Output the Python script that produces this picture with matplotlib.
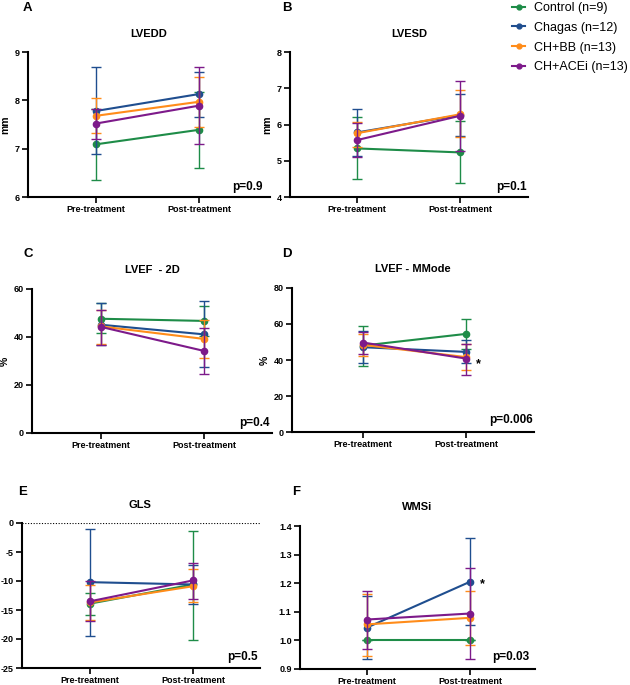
import matplotlib
matplotlib.use("Agg")
import matplotlib.pyplot as plt
from matplotlib.lines import Line2D
import numpy as np

plt.rcParams['font.family'] = ['Liberation Sans', 'DejaVu Sans']

# ---------------- data ----------------
groups = ["Control (n=9)", "Chagas (n=12)", "CH+BB (n=13)", "CH+ACEi (n=13)"]
colors = ["#1e8c48", "#1f4e8f", "#ff8c1a", "#7d1a8a"]
timepoints = ["Pre-treatment", "Post-treatment"]

# each: [pre, post] mean, and [pre, post] lower / upper error-bar ends
lvedd_mean = [[7.09, 7.39], [7.78, 8.13], [7.68, 7.97], [7.52, 7.89]]
lvedd_low = [[6.36, 6.61], [6.88, 7.66], [7.32, 7.45], [7.21, 7.09]]
lvedd_high = [[7.82, 8.17], [8.68, 8.58], [8.04, 8.48], [7.83, 8.70]]

lvesd_mean = [[5.34, 5.23], [5.78, 6.26], [5.76, 6.28], [5.57, 6.24]]
lvesd_low = [[4.49, 4.39], [5.12, 5.69], [5.39, 5.66], [5.11, 5.27]]
lvesd_high = [[6.22, 6.11], [6.44, 6.84], [6.07, 6.95], [6.03, 7.21]]

lvef2d_mean = [[47.6, 46.7], [45.1, 41.1], [44.4, 39.2], [44.2, 34.2]]
lvef2d_low = [[41.7, 40.6], [36.5, 27.5], [37.2, 31.4], [36.5, 24.4]]
lvef2d_high = [[54.2, 52.8], [54.2, 54.9], [51.4, 46.9], [51.1, 43.9]]

lvefmm_mean = [[48.0, 54.5], [47.1, 44.5], [48.4, 41.6], [49.7, 40.8]]
lvefmm_low = [[36.7, 46.0], [38.2, 38.2], [42.3, 34.3], [43.4, 31.6]]
lvefmm_high = [[58.7, 63.0], [56.0, 51.2], [54.5, 48.8], [55.4, 48.8]]

gls_mean = [[-13.9, -10.6], [-10.2, -10.6], [-13.7, -10.9], [-13.5, -9.9]]
gls_low = [[-15.8, -20.1], [-19.5, -14.0], [-16.7, -13.7], [-16.95, -13.1]]
gls_high = [[-12.0, -1.3], [-1.0, -7.3], [-10.7, -8.0], [-10.0, -6.9]]

wmsi_mean = [[1.000, 1.000], [1.045, 1.205], [1.056, 1.079], [1.073, 1.094]]
wmsi_low = [[1.000, 1.000], [0.936, 1.053], [0.945, 0.985], [0.971, 0.935]]
wmsi_high = [[1.000, 1.000], [1.156, 1.359], [1.162, 1.172], [1.173, 1.254]]

titles = ["LVEDD", "LVESD", "LVEF  - 2D", "LVEF - MMode", "GLS", "WMSi"]
letters = ["A", "B", "C", "D", "E", "F"]
pvalues = ["p=0.9", "p=0.1", "p=0.4", "p=0.006", "p=0.5", "p=0.03"]
ylabels = ["mm", "mm", "%", "%", "", ""]

# ---------------- layout ----------------
W, H = 630, 685
fig = plt.figure(figsize=(W / 100, H / 100), dpi=100)

def fx(px):
    return px / W

def fy(py):
    return 1 - py / H

def add_ax(l, r, t, b):
    return fig.add_axes([l / W, 1 - b / H, (r - l) / W, (b - t) / H])

# pixel boxes (left, right, top, bottom)
boxes = [(28, 270, 52, 197), (290, 528, 52, 197),
         (32, 272, 289, 433), (292, 534, 288, 432),
         (22, 260, 523, 668), (300, 535, 526, 669)]
ylims = [(6, 9), (4, 8), (0, 60), (0, 80), (-25, 0), (0.9, 1.4)]
yticks = [[6, 7, 8, 9], [4, 5, 6, 7, 8], [0, 20, 40, 60], [0, 20, 40, 60, 80],
          [-25, -20, -15, -10, -5, 0], [0.9, 1.0, 1.1, 1.2, 1.3, 1.4]]
ytickfmt = ["{:g}", "{:g}", "{:g}", "{:g}", "{:g}", "{:.1f}"]
pre_px = [96, 357, 101, 363, 90, 367]

datasets = [(lvedd_mean, lvedd_low, lvedd_high),
            (lvesd_mean, lvesd_low, lvesd_high),
            (lvef2d_mean, lvef2d_low, lvef2d_high),
            (lvefmm_mean, lvefmm_low, lvefmm_high),
            (gls_mean, gls_low, gls_high),
            (wmsi_mean, wmsi_low, wmsi_high)]

title_pos = [(149, 34), (409, 34), (152, 270), (413, 269), (140, 505), (417, 507)]
letter_pos = [(27, 8), (287, 8), (28, 254), (287, 254), (23, 492), (296, 492)]
p_pos = [(263, 187), (527, 187), (270, 423), (533, 420), (258, 657), (529, 657)]

x = np.arange(len(timepoints))
axes = []
for i in range(6):
    l, r, t, b = boxes[i]
    ax = add_ax(l, r, t, b)
    axes.append(ax)
    # x limits so that pre / post land on reference pixel positions (103 px apart)
    unit = 103.0
    ax.set_xlim((l - pre_px[i]) / unit, (r - pre_px[i]) / unit)
    ax.set_ylim(*ylims[i])
    mean, low, high = datasets[i]
    if i == 4:
        ax.axhline(0, color="black", lw=0.8, ls=(0, (1, 1.5)), zorder=1)
    for g in range(len(groups)):
        m = np.array(mean[g])
        lo = m - np.array(low[g])
        hi = np.array(high[g]) - m
        ax.errorbar(x, m, yerr=[lo, hi], color=colors[g], lw=1.5,
                    elinewidth=1.0, capsize=3.5, capthick=1.0,
                    marker="o", markersize=4.5, zorder=3 + g, clip_on=False)
    for s in ["top", "right"]:
        ax.spines[s].set_visible(False)
    for s in ["left", "bottom"]:
        ax.spines[s].set_linewidth(1.5)
        ax.spines[s].set_color("black")
    ax.set_xticks(x)
    ax.set_xticklabels(timepoints, fontsize=6.5, fontweight="bold")
    ax.set_yticks(yticks[i])
    ax.set_yticklabels([ytickfmt[i].format(v) for v in yticks[i]],
                       fontsize=6.5, fontweight="bold")
    ax.tick_params(axis="both", length=4, width=1.2, pad=2)
    if ylabels[i]:
        ax.set_ylabel(ylabels[i], fontsize=7.5, fontweight="bold", labelpad=3)
    fig.text(fx(title_pos[i][0]), fy(title_pos[i][1]), titles[i],
             ha="center", va="center", fontsize=8, fontweight="bold")
    fig.text(fx(letter_pos[i][0]), fy(letter_pos[i][1]), letters[i],
             ha="center", va="center", fontsize=9.5, fontweight="bold")
    fig.text(fx(p_pos[i][0]), fy(p_pos[i][1]), pvalues[i],
             ha="right", va="center", fontsize=8.5, fontweight="bold")

# significance asterisks next to post-treatment points
axes[3].annotate("*", xy=(1, lvefmm_mean[3][1]), xytext=(7, -4),
                 textcoords="offset points", fontsize=9, fontweight="bold",
                 ha="left", va="center")
axes[5].annotate("*", xy=(1, wmsi_mean[1][1]), xytext=(7, -2),
                 textcoords="offset points", fontsize=9, fontweight="bold",
                 ha="left", va="center")

# legend
handles = [Line2D([0], [0], color=c, lw=1.5, marker="o", markersize=3.5)
           for c in colors]
fig.legend(handles, groups, loc="upper left",
           bbox_to_anchor=(fx(509.5), fy(-0.5)), frameon=False, fontsize=9,
           handlelength=1.05, handletextpad=0.7, labelspacing=0.62,
           borderaxespad=0, borderpad=0.2)

fig.savefig("out.png", dpi=100)
